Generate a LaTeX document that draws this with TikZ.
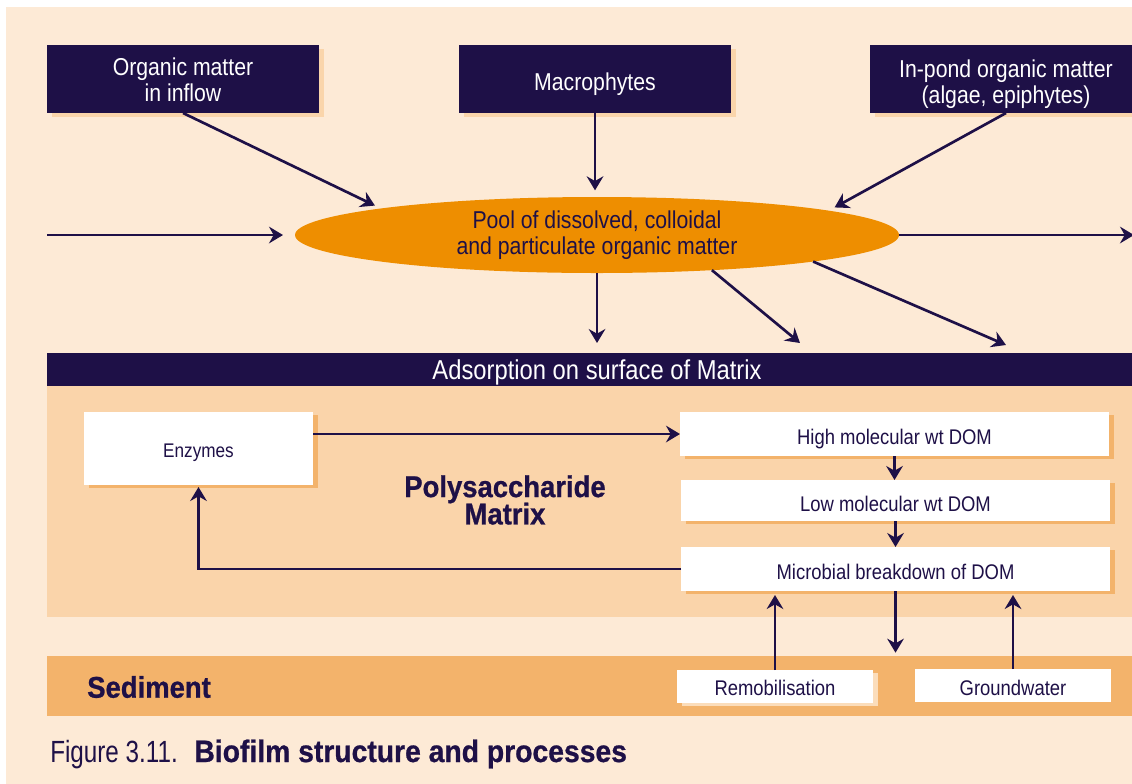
\documentclass[tikz,border=0pt]{standalone}
\usepackage{fontspec}
\setmainfont{Liberation Sans}[FakeStretch=0.87]
\newfontfamily\heavyfont{Liberation Sans}[FakeStretch=0.915, FakeBold=0.8]
\newfontfamily\captionlight{Liberation Sans}[FakeStretch=0.79]
\usetikzlibrary{arrows.meta,shapes.geometric,shadows,calc}

\definecolor{pagebg}{HTML}{FDEAD6}
\definecolor{matrixbg}{HTML}{FAD4AA}
\definecolor{sedbg}{HTML}{F3B36B}
\definecolor{navy}{HTML}{1E1047}
\definecolor{poolorange}{HTML}{EE8E00}
\definecolor{paleshadow}{HTML}{FAD5AB}
\definecolor{lightshadow}{HTML}{FBDDBB}

% invisible strut that pushes a node's text downwards
\newcommand\topstrut[1]{\rule{0pt}{#1}}

\tikzset{
  srcbox/.style={rectangle, fill=navy, text=white, align=center, inner sep=0pt, outer sep=0pt,
    minimum width=272*0.75pt, minimum height=68*0.75pt,
    font=\fontsize{18.3}{19}\selectfont,
    drop shadow={shadow xshift=3.4pt, shadow yshift=-3pt, fill=paleshadow, opacity=1}},
  procbox/.style={rectangle, fill=white, text=navy, align=center, inner sep=0pt, outer sep=0pt,
    minimum width=429*0.75pt, minimum height=44*0.75pt,
    font=\fontsize{15.9}{17}\selectfont,
    drop shadow={shadow xshift=3.75pt, shadow yshift=-2.6pt, fill=sedbg, opacity=1}},
  band/.style={rectangle, inner sep=0pt, outer sep=0pt, anchor=north west},
  arr/.style={draw=navy, line width=2pt, -{Stealth[length=10.5pt, width=12.5pt, inset=3.5pt]}},
  heavylabel/.style={text=navy, inner sep=0pt, font=\heavyfont\bfseries\fontsize{22.5}{18.5}\selectfont}
}

\begin{document}
\begin{tikzpicture}[x=0.75pt, y=-0.75pt]
\useasboundingbox (0,0) rectangle (1132,783);
\clip (0,0) rectangle (1132,783);
\fill[white] (0,0) rectangle (1132,783);
\fill[pagebg] (6,7) rectangle (1140,790);

% layers of the biofilm
\node[band, fill=matrixbg, minimum width=1100*0.75pt, minimum height=231*0.75pt] (matrix) at (47,386) {};
\node[band, fill=sedbg, minimum width=1100*0.75pt, minimum height=60*0.75pt] (sed) at (47,656) {};

% sources of organic matter
\node[srcbox] (inflow) at (183,79) {\topstrut{14.5pt}Organic matter\\in inflow};
\node[srcbox] (macro) at (595,79) {\topstrut{21.5pt}Macrophytes};
\node[srcbox] (inpond) at (1006,79) {\topstrut{21pt}In-pond organic matter\\(algae, epiphytes)};

% central pool
\node[ellipse, fill=poolorange, text=navy, align=center, inner sep=0pt, outer sep=0pt,
  minimum width=604*0.75pt, minimum height=76*0.75pt,
  font=\fontsize{18.3}{19.5}\selectfont] (pool) at (597,235)
  {Pool of dissolved, colloidal\\and particulate organic matter};

% adsorption bar
\node[rectangle, fill=navy, text=white, inner sep=0pt, outer sep=0pt,
  minimum width=1100*0.75pt, minimum height=33*0.75pt,
  font=\fontsize{20.5}{22}\selectfont] (adsorb) at (597,369.5) {\topstrut{19.4pt}Adsorption on surface of Matrix};

% processes in the matrix
\node[procbox, minimum width=229*0.75pt, minimum height=73*0.75pt,
  font=\fontsize{14.8}{16}\selectfont] (enz) at (198.5,448.5) {\topstrut{16.6pt}Enzymes};
\node[procbox] (high) at (894.5,434) {\topstrut{19.1pt}High molecular wt DOM};
\node[procbox, minimum height=41*0.75pt] (low) at (895.5,500.5) {\topstrut{16.1pt}Low molecular wt DOM};
\node[procbox] (micro) at (895.5,569) {\topstrut{16.1pt}Microbial breakdown of DOM};

\node[heavylabel, align=center] (poly) at (505,500) {Polysaccharide\\[-1.5pt]Matrix};

% sediment
\node[heavylabel, anchor=west] (sedlabel) at (87,687) {Sediment};
\node[procbox, minimum width=196*0.75pt, minimum height=33*0.75pt,
  drop shadow={shadow xshift=3.75pt, shadow yshift=-2.4pt, fill=lightshadow, opacity=1}]
  (remob) at (775,686.5) {\topstrut{13pt}Remobilisation};
\node[rectangle, fill=white, text=navy, inner sep=0pt, outer sep=0pt,
  minimum width=196*0.75pt, minimum height=33*0.75pt,
  font=\fontsize{15.9}{17}\selectfont] (ground) at (1013,685.5) {\topstrut{14.6pt}Groundwater};

% caption
\node[anchor=base west, inner sep=0pt, text=navy] (cap) at (50,762)
  {{\captionlight\fontsize{23}{25}\selectfont Figure 3.11.}\hspace{12.5pt}{\heavyfont\bfseries\fontsize{23.2}{25}\selectfont Biofilm structure and processes}};

% flows into and out of the pool
\coordinate (inL) at (47,235);
\coordinate (outR) at (1134,235);
\coordinate (dm) at (800,343);
\coordinate (dr) at (1006,345);

\draw[arr, shorten >=9pt] (inL) -- (pool.west);
\draw[arr] (pool.east) -- (outR);
\draw[arr, shorten >=5pt] (inflow.south) -- (pool.173.4);
\draw[arr, shorten >=5pt] (macro.south) -- (macro.south |- pool.north);
\draw[arr, shorten >=5pt] (inpond.south) -- (pool.6.7);

\draw[arr, shorten >=7.5pt] (pool.south) -- (pool.south |- adsorb.north);
\draw[arr] (pool.-17.1) -- (dm);
\draw[arr] (pool.-7) -- (dr);

% flows within the matrix
\draw[arr] (enz.east |- high.west) -- (high.west);
\draw[arr] (high.south) -- (high.south |- low.north);
\draw[arr] (low.south) -- (low.south |- micro.north);
\draw[arr, shorten >=2.5pt] (micro.south) -- (micro.south |- sed.north);
\draw[arr, shorten >=3pt] (remob.north) -- (remob.north |- micro.south);
\draw[arr, shorten >=3pt] (ground.north) -- (ground.north |- micro.south);
\draw[arr, shorten >=1.5pt] (micro.west) -| (enz.south);
\end{tikzpicture}
\end{document}
